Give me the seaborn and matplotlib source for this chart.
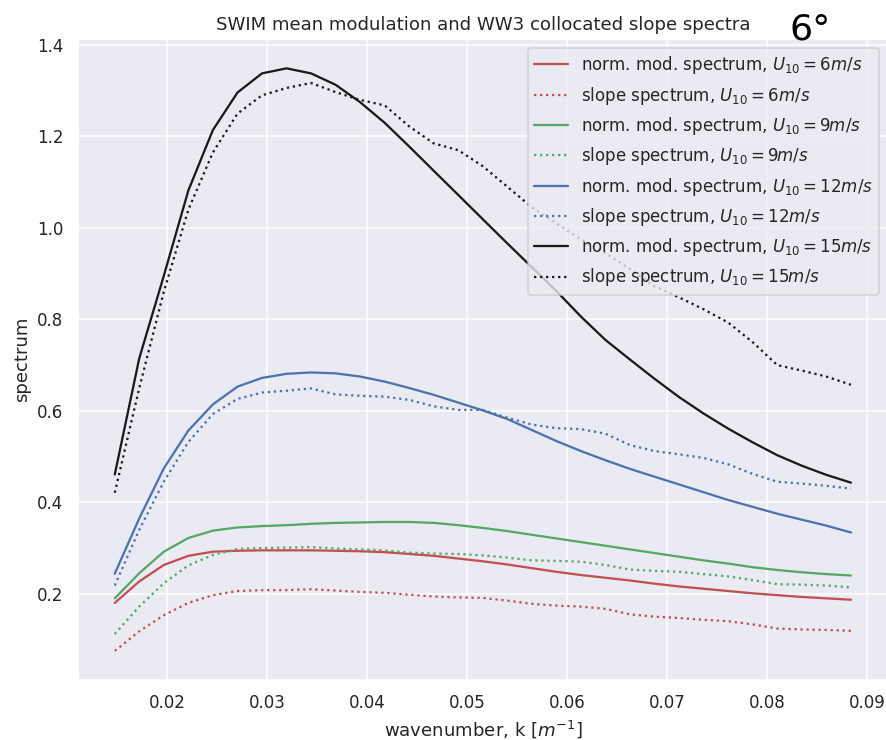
import matplotlib
matplotlib.use("Agg")
import matplotlib.pyplot as plt
import seaborn as sns

# wavenumber grid [1/m]
wavenumber = [0.01473, 0.01718, 0.01963, 0.02209, 0.02454, 0.02700, 0.02945,
              0.03191, 0.03436, 0.03682, 0.03927, 0.04172, 0.04418, 0.04663,
              0.04909, 0.05154, 0.05400, 0.05645, 0.05890, 0.06136, 0.06381,
              0.06627, 0.06872, 0.07118, 0.07363, 0.07609, 0.07854, 0.08099,
              0.08345, 0.08590, 0.08836]

# normalised SWIM modulation spectra
mod_u6 = [0.180, 0.227, 0.263, 0.283, 0.292, 0.294, 0.295, 0.295, 0.295, 0.294,
          0.293, 0.291, 0.287, 0.283, 0.277, 0.271, 0.264, 0.256, 0.248, 0.241,
          0.235, 0.229, 0.222, 0.216, 0.211, 0.206, 0.201, 0.197, 0.193, 0.190,
          0.187]
mod_u9 = [0.190, 0.245, 0.292, 0.322, 0.338, 0.345, 0.348, 0.350, 0.353, 0.355,
          0.356, 0.357, 0.357, 0.355, 0.350, 0.344, 0.337, 0.329, 0.321, 0.313,
          0.305, 0.297, 0.289, 0.281, 0.273, 0.266, 0.258, 0.252, 0.247, 0.243,
          0.240]
mod_u12 = [0.244, 0.365, 0.474, 0.557, 0.614, 0.653, 0.672, 0.681, 0.684, 0.682,
           0.675, 0.664, 0.650, 0.635, 0.618, 0.601, 0.582, 0.558, 0.534, 0.512,
           0.492, 0.473, 0.456, 0.439, 0.422, 0.405, 0.390, 0.375, 0.362, 0.349,
           0.334]
mod_u15 = [0.461, 0.715, 0.895, 1.082, 1.214, 1.296, 1.338, 1.349, 1.338, 1.313,
           1.275, 1.230, 1.178, 1.125, 1.072, 1.019, 0.966, 0.914, 0.862, 0.806,
           0.755, 0.712, 0.670, 0.630, 0.594, 0.561, 0.531, 0.503, 0.480, 0.460,
           0.443]

# WW3 collocated slope spectra
slope_u6 = [0.075, 0.118, 0.153, 0.180, 0.197, 0.206, 0.208, 0.208, 0.210, 0.207,
            0.204, 0.202, 0.198, 0.194, 0.192, 0.191, 0.185, 0.178, 0.174, 0.172,
            0.167, 0.155, 0.150, 0.147, 0.143, 0.140, 0.133, 0.124, 0.122, 0.121,
            0.119]
slope_u9 = [0.112, 0.172, 0.223, 0.262, 0.285, 0.298, 0.300, 0.301, 0.302, 0.299,
            0.297, 0.295, 0.290, 0.288, 0.287, 0.284, 0.279, 0.273, 0.272, 0.270,
            0.263, 0.253, 0.250, 0.248, 0.243, 0.238, 0.230, 0.221, 0.220, 0.218,
            0.214]
slope_u12 = [0.218, 0.340, 0.445, 0.532, 0.593, 0.626, 0.640, 0.644, 0.649, 0.636,
             0.633, 0.631, 0.624, 0.610, 0.602, 0.602, 0.585, 0.570, 0.562, 0.560,
             0.550, 0.525, 0.512, 0.505, 0.497, 0.483, 0.462, 0.445, 0.441, 0.436,
             0.430]
slope_u15 = [0.421, 0.650, 0.860, 1.040, 1.165, 1.250, 1.290, 1.306, 1.317, 1.297,
             1.280, 1.268, 1.222, 1.185, 1.170, 1.135, 1.090, 1.045, 1.010, 0.975,
             0.945, 0.910, 0.872, 0.848, 0.822, 0.793, 0.750, 0.700, 0.688, 0.675,
             0.657]

wind_speeds = [6, 9, 12, 15]
colors = ["r", "g", "b", "k"]
mod_spectra = [mod_u6, mod_u9, mod_u12, mod_u15]
slope_spectra = [slope_u6, slope_u9, slope_u12, slope_u15]

sns.set_theme(style="darkgrid")
plt.rcParams["font.family"] = ["DejaVu Sans"]

DPI = 109
fig = plt.figure(figsize=(886 / DPI, 740 / DPI), dpi=DPI)
ax = fig.add_axes([0.088, 0.081, 0.914, 0.866])

for u, c, mod, slope in zip(wind_speeds, colors, mod_spectra, slope_spectra):
    sns.lineplot(x=wavenumber, y=mod, color=c, linestyle="-", ax=ax,
                 label=r"norm. mod. spectrum, $U_{10} = %dm/s$" % u)
    sns.lineplot(x=wavenumber, y=slope, color=c, linestyle=":", ax=ax,
                 label=r"slope spectrum, $U_{10} = %dm/s$" % u)

ax.set_title("SWIM mean modulation and WW3 collocated slope spectra")
ax.set_xlabel(r"wavenumber, k [$m^{-1}$]")
ax.set_ylabel("spectrum")
ax.legend(loc="upper right")

fig.text(790 / 886, 1 - 39 / 740, "6°", fontsize=24, color="black",
         ha="left", va="baseline")

fig.savefig("out.png", dpi=DPI)
